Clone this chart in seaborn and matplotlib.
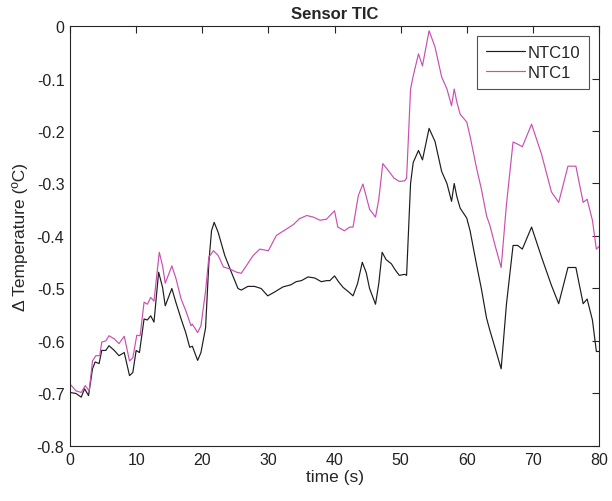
import numpy as np
import pandas as pd
import matplotlib
matplotlib.use("Agg")
import matplotlib.pyplot as plt
import seaborn as sns

# ---- data ----
t_ntc10 = [0, 0.9, 1.7, 2.2, 2.8, 3.4, 3.8, 4.4, 4.8, 5.4, 5.9, 6.7, 7.4, 8.2, 9.0, 9.5,
           10.0, 10.5, 11.2, 11.7, 12.2, 12.7, 13.4, 14.0, 14.4, 15.4, 16.0, 16.8, 17.5,
           18.1, 18.5, 19.3, 19.8, 20.5, 21.0, 21.4, 21.8, 22.4, 23.4, 24.4, 25.4, 25.9,
           26.9, 27.9, 28.9, 29.9, 30.9, 32.2, 33.4, 34.2, 35.0, 36.0, 37.0, 38.0, 38.8,
           39.3, 40.0, 40.6, 41.3, 42.0, 42.8, 43.5, 44.2, 44.8, 45.3, 46.2, 46.7, 47.2,
           47.8, 48.6, 49.2, 49.8, 50.6, 50.9, 51.5, 51.9, 52.7, 53.3, 54.3, 55.2, 56.2,
           57.0, 57.7, 58.1, 58.5, 59.0, 60.0, 60.5, 61.5, 62.2, 63.0, 63.5, 64.3, 65.2,
           66.0, 67.0, 67.7, 68.4, 69.8, 71.3, 72.8, 73.9, 75.3, 76.5, 77.6, 78.2, 79.0,
           79.6, 80.0]
v_ntc10 = [-0.698, -0.700, -0.707, -0.691, -0.704, -0.653, -0.640, -0.643, -0.618, -0.618,
           -0.609, -0.618, -0.628, -0.622, -0.666, -0.660, -0.618, -0.622, -0.558, -0.560,
           -0.552, -0.564, -0.469, -0.498, -0.533, -0.500, -0.526, -0.558, -0.584, -0.612,
           -0.610, -0.637, -0.622, -0.575, -0.450, -0.390, -0.374, -0.393, -0.437, -0.469,
           -0.500, -0.503, -0.496, -0.496, -0.500, -0.514, -0.507, -0.497, -0.493, -0.487,
           -0.485, -0.478, -0.480, -0.487, -0.485, -0.485, -0.476, -0.487, -0.498, -0.505,
           -0.514, -0.490, -0.450, -0.470, -0.500, -0.530, -0.490, -0.431, -0.445, -0.453,
           -0.465, -0.475, -0.473, -0.475, -0.300, -0.260, -0.237, -0.255, -0.195, -0.220,
           -0.277, -0.300, -0.334, -0.300, -0.325, -0.347, -0.366, -0.390, -0.456, -0.500,
           -0.557, -0.580, -0.614, -0.653, -0.530, -0.418, -0.418, -0.425, -0.383, -0.440,
           -0.494, -0.529, -0.460, -0.460, -0.529, -0.520, -0.560, -0.620, -0.620]

t_ntc1 = [0, 0.9, 1.7, 2.3, 2.9, 3.4, 3.9, 4.5, 4.8, 5.4, 5.9, 6.7, 7.4, 8.2, 9.0, 9.5,
          10.1, 10.6, 11.2, 11.7, 12.2, 12.7, 13.5, 14.0, 14.4, 15.4, 16.0, 16.8, 17.5,
          18.3, 18.5, 19.3, 19.8, 20.5, 21.0, 21.7, 22.4, 23.2, 24.2, 25.2, 25.9, 26.7,
          27.7, 28.7, 30.0, 31.2, 32.7, 33.8, 34.7, 35.8, 36.8, 37.8, 38.8, 39.3, 40.0,
          40.5, 41.5, 42.3, 42.8, 43.6, 44.3, 45.3, 46.2, 46.7, 47.3, 48.3, 49.0, 49.8,
          50.6, 50.9, 51.5, 51.9, 52.7, 53.3, 54.3, 55.2, 56.2, 57.0, 57.7, 58.1, 58.5,
          59.0, 60.0, 60.5, 61.5, 62.2, 63.0, 63.5, 64.3, 65.2, 66.0, 67.0, 67.7, 68.4,
          69.8, 71.3, 72.8, 73.9, 75.3, 76.5, 77.6, 78.2, 79.0, 79.6, 80.0]
v_ntc1 = [-0.682, -0.695, -0.698, -0.685, -0.695, -0.638, -0.628, -0.628, -0.602, -0.600,
          -0.590, -0.596, -0.605, -0.591, -0.638, -0.632, -0.589, -0.590, -0.526, -0.530,
          -0.517, -0.524, -0.431, -0.457, -0.490, -0.457, -0.480, -0.520, -0.542, -0.571,
          -0.568, -0.584, -0.571, -0.505, -0.440, -0.428, -0.437, -0.459, -0.463, -0.469,
          -0.471, -0.456, -0.437, -0.425, -0.428, -0.399, -0.387, -0.378, -0.367, -0.361,
          -0.364, -0.370, -0.368, -0.361, -0.352, -0.383, -0.390, -0.383, -0.383, -0.323,
          -0.301, -0.349, -0.364, -0.330, -0.262, -0.278, -0.290, -0.296, -0.295, -0.290,
          -0.120, -0.095, -0.053, -0.076, -0.009, -0.040, -0.097, -0.120, -0.152, -0.120,
          -0.145, -0.168, -0.183, -0.210, -0.272, -0.310, -0.362, -0.380, -0.419, -0.460,
          -0.340, -0.221, -0.225, -0.230, -0.187, -0.244, -0.316, -0.336, -0.267, -0.267,
          -0.336, -0.330, -0.370, -0.425, -0.420]

series_names = ["NTC10", "NTC1"]
x_ticks = [0, 10, 20, 30, 40, 50, 60, 70, 80]
y_ticks = [-0.8, -0.7, -0.6, -0.5, -0.4, -0.3, -0.2, -0.1, 0]
y_tick_labels = ["-0.8", "-0.7", "-0.6", "-0.5", "-0.4", "-0.3", "-0.2", "-0.1", "0"]

df = pd.concat([
    pd.DataFrame({"t": t_ntc10, "v": v_ntc10, "sensor": series_names[0]}),
    pd.DataFrame({"t": t_ntc1, "v": v_ntc1, "sensor": series_names[1]}),
], ignore_index=True)

sns.set_style("white")
plt.rcParams["font.family"] = ["Liberation Sans", "DejaVu Sans"]

fig = plt.figure(figsize=(6.12, 5.02), dpi=100)
ax = fig.add_axes([0.1144, 0.1096, 0.8644, 0.8366])

palette = {"NTC10": "#1c1c1c", "NTC1": "#c94fb0"}
sns.lineplot(data=df, x="t", y="v", hue="sensor", palette=palette,
             hue_order=series_names, linewidth=0.85, ax=ax, sort=True,
             estimator=None)

ax.set_xlim(0, 80)
ax.set_ylim(-0.8, 0)
ax.set_xticks(x_ticks)
ax.set_xticklabels([str(x) for x in x_ticks])
ax.set_yticks(y_ticks)
ax.set_yticklabels(y_tick_labels)

for s in ax.spines.values():
    s.set_visible(True)
    s.set_color("#262626")
    s.set_linewidth(0.8)
ax.tick_params(direction="in", length=5, width=0.8, color="#262626",
               top=True, right=True, labelsize=11.5, labelcolor="#222222", pad=4)

ax.set_title("Sensor TIC", fontsize=12, fontweight="bold", pad=6)
ax.set_xlabel("time (s)", fontsize=12.5, labelpad=2)
ax.set_ylabel("\u0394 Temperature (\u00baC)", fontsize=12.5, labelpad=6)

leg = ax.legend(loc="upper right", fontsize=12, frameon=True, fancybox=False,
                borderaxespad=0.6, handlelength=2.3, handletextpad=0.15,
                borderpad=0.55, labelspacing=0.3)
leg.get_frame().set_edgecolor("#262626")
leg.get_frame().set_linewidth(0.8)
leg.set_title(None)

fig.savefig("out.png", dpi=100)
